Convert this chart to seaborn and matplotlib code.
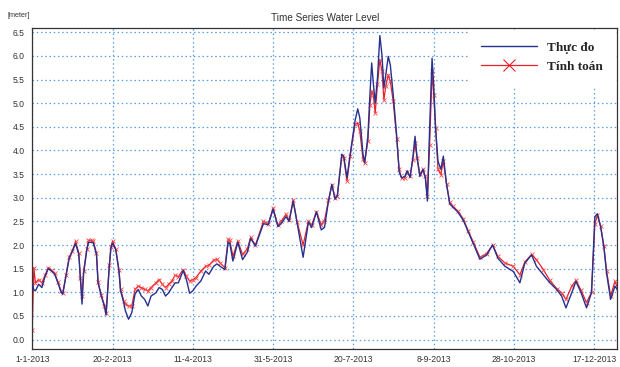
import numpy as np
import pandas as pd
import matplotlib
matplotlib.use("Agg")
import matplotlib.pyplot as plt
import matplotlib.dates as mdates
from matplotlib.lines import Line2D
from matplotlib.ticker import FixedLocator, MultipleLocator
import seaborn as sns

# Day offsets from 1-1-2013
day = [0, 1, 2, 4, 6, 8, 10, 12, 14, 16, 18, 19, 21, 23, 25, 27, 29, 30, 31, 32,
       34, 35, 37, 38, 40, 41, 43, 45, 46, 48, 49, 50, 52, 54, 55, 57, 58, 60, 62, 64,
       66, 68, 70, 72, 74, 77, 79, 81, 83, 85, 87, 89, 91, 94, 96, 98, 100, 102, 105, 108,
       110, 113, 115, 117, 120, 122, 123, 125, 128, 131, 134, 136, 139, 144, 147, 150, 153, 155, 158, 160,
       162.5, 165, 168.7, 172, 174, 177, 180, 182, 184.5, 186.6, 188.6, 190, 192.8, 194, 196, 198, 201, 202.7, 204, 206,
       207, 209, 210.3, 211.4, 212.4, 213.6, 215, 216.5, 217.8, 219, 220.2, 221.7, 223, 224.8, 227, 228.5, 230, 232, 233.5, 235.3,
       237, 238.4, 239.7, 241.4, 243.4, 244.8, 246.1, 247.5, 249, 250, 251.2, 252.7, 254.5, 256, 258, 260, 262, 265, 268.5, 271.5,
       274.7, 278.8, 283, 286.7, 290, 294.4, 299.6, 303.7, 306.8, 311, 314, 318.3, 322.4, 326.6, 329.7, 332.4, 336, 338.6, 341.7, 345.2,
       348.3, 350.4, 352, 354, 356, 357.7, 360.2, 362.9, 364.5]

# Measured water level [m]
thuc_do = [1.2, 1.05, 1.03, 1.17, 1.1, 1.34, 1.5, 1.45, 1.38, 1.2, 1.0, 0.96, 1.34, 1.72, 1.87, 2.03, 1.8, 1.27, 0.75, 1.4,
           1.9, 2.05, 2.06, 2.05, 1.8, 1.2, 0.92, 0.7, 0.52, 1.55, 1.94, 2.04, 1.9, 1.45, 1.03, 0.78, 0.61, 0.43, 0.57, 0.96,
           1.06, 0.92, 0.85, 0.71, 0.92, 0.99, 1.1, 1.06, 0.92, 0.99, 1.1, 1.2, 1.2, 1.46, 1.27, 0.98, 1.03, 1.13, 1.24, 1.45,
           1.38, 1.55, 1.6, 1.55, 1.48, 2.06, 2.04, 1.66, 2.06, 1.69, 1.85, 2.14, 1.98, 2.45, 2.43, 2.76, 2.39, 2.45, 2.6, 2.5,
           2.93, 2.46, 1.74, 2.49, 2.37, 2.7, 2.32, 2.37, 2.93, 3.28, 2.97, 3.04, 3.92, 3.88, 3.42, 3.92, 4.62, 4.88, 4.69, 3.92,
           3.74, 4.27, 5.18, 5.85, 5.43, 5.0, 5.53, 6.43, 6.02, 5.32, 5.6, 5.99, 5.81, 5.18, 4.3, 3.55, 3.42, 3.45, 3.57, 3.43,
           3.84, 4.3, 3.84, 3.45, 3.6, 3.42, 2.93, 4.48, 5.95, 5.39, 4.48, 3.77, 3.6, 3.88, 3.29, 2.87, 2.8, 2.7, 2.52, 2.28,
           2.03, 1.7, 1.79, 2.0, 1.72, 1.55, 1.44, 1.2, 1.62, 1.79, 1.55, 1.37, 1.2, 1.06, 0.92, 0.67, 0.99, 1.23, 1.0, 0.67,
           0.99, 2.6, 2.66, 2.38, 1.96, 1.4, 0.85, 1.13, 1.05]

# Computed water level [m]
tinh_toan = [0.2, 1.52, 1.2, 1.27, 1.2, 1.36, 1.52, 1.47, 1.4, 1.22, 1.02, 0.98, 1.36, 1.74, 1.88, 2.08, 1.83, 1.3, 0.92, 1.45,
             1.92, 2.1, 2.1, 2.08, 1.83, 1.22, 0.94, 0.72, 0.56, 1.57, 1.96, 2.08, 1.92, 1.48, 1.06, 0.82, 0.75, 0.71, 0.71, 1.06,
             1.13, 1.1, 1.06, 1.03, 1.1, 1.2, 1.27, 1.17, 1.1, 1.17, 1.24, 1.36, 1.33, 1.48, 1.34, 1.24, 1.27, 1.31, 1.45, 1.55,
             1.57, 1.68, 1.7, 1.62, 1.52, 2.12, 2.1, 1.76, 2.08, 1.8, 1.92, 2.16, 2.0, 2.5, 2.45, 2.78, 2.42, 2.5, 2.65, 2.52,
             2.95, 2.48, 2.0, 2.5, 2.42, 2.7, 2.43, 2.51, 2.95, 3.27, 3.0, 3.04, 3.88, 3.84, 3.35, 3.88, 4.55, 4.58, 4.41, 3.81,
             3.74, 4.2, 4.97, 5.25, 5.18, 4.79, 5.4, 5.92, 5.67, 5.07, 5.36, 5.6, 5.46, 5.04, 4.25, 3.6, 3.42, 3.42, 3.55, 3.45,
             3.8, 4.16, 3.84, 3.5, 3.6, 3.45, 3.04, 4.12, 5.67, 5.18, 4.48, 3.6, 3.49, 3.78, 3.3, 2.9, 2.82, 2.72, 2.55, 2.3,
             2.06, 1.74, 1.82, 2.0, 1.76, 1.62, 1.55, 1.37, 1.64, 1.8, 1.69, 1.48, 1.25, 1.08, 0.99, 0.85, 1.13, 1.25, 1.05, 0.78,
             1.0, 2.45, 2.63, 2.4, 1.98, 1.45, 0.92, 1.23, 1.1]

tick_dates = ["2013-01-01", "2013-02-20", "2013-04-11", "2013-05-31",
              "2013-07-20", "2013-09-08", "2013-10-28", "2013-12-17"]
y_ticks = [0.0, 0.5, 1.0, 1.5, 2.0, 2.5, 3.0, 3.5, 4.0, 4.5, 5.0, 5.5, 6.0, 6.5]
series_names = ["Thực đo", "Tính toán"]

start = pd.Timestamp("2013-01-01")
dates = [start + pd.Timedelta(days=d) for d in day]
df = pd.DataFrame({"date": dates, "thuc_do": thuc_do, "tinh_toan": tinh_toan})

sns.set_style("white")
plt.rcParams["font.family"] = ["Liberation Sans", "DejaVu Sans"]

fig = plt.figure(figsize=(6.2, 3.67), dpi=100)
ax = fig.add_axes([0.052, 0.049, 0.9427, 0.876])

blue = "#27318f"
red = "#e8202a"

sns.lineplot(data=df, x="date", y="thuc_do", ax=ax, color=blue, linewidth=1.0, zorder=3)
sns.lineplot(data=df, x="date", y="tinh_toan", ax=ax, color=red, linewidth=0.9,
             marker="x", markersize=3, markeredgewidth=0.6, markeredgecolor="#ff4a4a", zorder=2)

# Axis limits and ticks
x0 = mdates.date2num(pd.Timestamp("2013-01-01"))
x1 = mdates.date2num(pd.Timestamp("2013-12-31"))
ax.set_xlim(x0, x1)
ax.set_ylim(-0.2, 6.6)

major = [mdates.date2num(pd.Timestamp(d)) for d in tick_dates]
ax.xaxis.set_major_locator(FixedLocator(major))
ax.xaxis.set_minor_locator(FixedLocator(np.arange(x0, x1, 5)))
ax.set_xticklabels([f"{pd.Timestamp(d).day}-{pd.Timestamp(d).month}-{pd.Timestamp(d).year}" for d in tick_dates])
ax.set_yticks(y_ticks)
ax.set_yticklabels([f"{v:.1f}" for v in y_ticks])
ax.yaxis.set_minor_locator(MultipleLocator(0.25))

ax.tick_params(axis="both", which="major", direction="out", length=3.5, width=0.8,
               colors="#333333", labelsize=6.2, labelcolor="#333333", pad=2)
ax.tick_params(axis="both", which="minor", direction="out", length=2.2, width=0.7, colors="#333333")
ax.tick_params(axis="x", which="major", pad=0.8)

ax.grid(True, which="major", color="#5b9fe6", linestyle=(0, (1.2, 2.2)), linewidth=0.9)
ax.set_axisbelow(True)

for s in ax.spines.values():
    s.set_visible(True)
    s.set_color("#333333")
    s.set_linewidth(0.9)

ax.set_xlabel("")
ax.set_ylabel("")

fig.text(0.525, 0.952, "Time Series Water Level", ha="center", va="center",
         fontsize=7.2, color="#333333")
fig.text(0.012, 0.958, "[meter]", ha="left", va="center", fontsize=5.2, color="#333333")

handles = [
    Line2D([], [], color=blue, linewidth=1.0),
    Line2D([], [], color=red, linewidth=0.9, marker="x", markersize=9, markeredgewidth=0.8),
]
leg = ax.legend(handles, series_names, loc="upper right", borderaxespad=0.15,
                frameon=True, fancybox=False, framealpha=1.0, facecolor="white",
                edgecolor="white", handlelength=4.2, handletextpad=0.8, labelspacing=0.55,
                borderpad=0.9,
                prop={"family": ["Liberation Serif", "DejaVu Serif"], "weight": "bold", "size": 9.5})
leg.set_zorder(10)

fig.savefig("out.png", dpi=100, facecolor="white")
